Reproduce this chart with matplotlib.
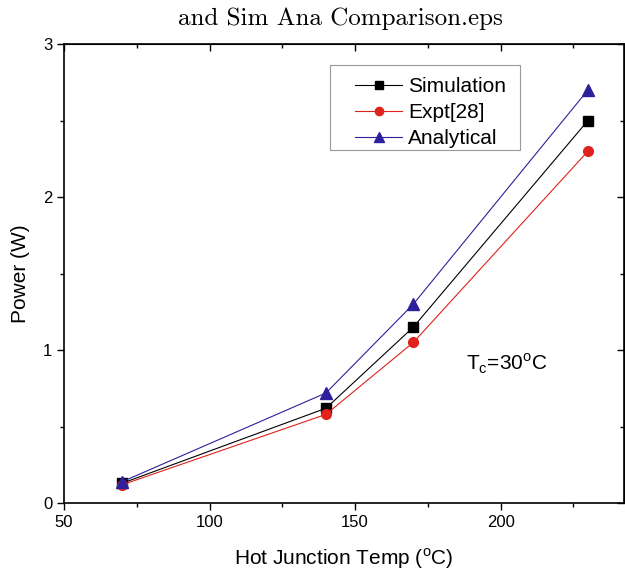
import matplotlib
matplotlib.use("Agg")
import matplotlib.pyplot as plt
from matplotlib.ticker import MultipleLocator
from matplotlib.patches import Rectangle

temps = [70, 140, 170, 230]
simulation = [0.13, 0.62, 1.15, 2.50]
expt = [0.12, 0.58, 1.05, 2.30]
analytical = [0.14, 0.72, 1.30, 2.70]

plt.rcParams['font.family'] = ['Liberation Sans', 'DejaVu Sans']
plt.rcParams['mathtext.fontset'] = 'custom'
plt.rcParams['mathtext.rm'] = 'Liberation Sans'

fig = plt.figure(figsize=(6.25, 5.75), dpi=100)
ax = fig.add_axes([0.1024, 0.125, 0.8966, 0.7985])

ax.plot(temps, simulation, color='black', lw=0.8, marker='s', ms=6.5, label='Simulation')
ax.plot(temps, expt, color='#e0221c', lw=0.8, marker='o', ms=7, label='Expt[28]')
ax.plot(temps, analytical, color='#2e1f9c', lw=0.8, marker='^', ms=8, label='Analytical')

ax.set_xlim(50, 242.5)
ax.set_ylim(0, 3)
ax.xaxis.set_major_locator(MultipleLocator(50))
ax.xaxis.set_minor_locator(MultipleLocator(25))
ax.yaxis.set_major_locator(MultipleLocator(1))
ax.yaxis.set_minor_locator(MultipleLocator(0.5))
ax.tick_params(which='both', direction='out', top=False, right=False, labelsize=12, width=1)
ax.tick_params(which='major', length=5)
ax.tick_params(which='minor', length=3)
for s in ax.spines.values():
    s.set_linewidth(1.2)

sec_x = ax.secondary_xaxis('top')
sec_x.xaxis.set_major_locator(MultipleLocator(50))
sec_x.xaxis.set_minor_locator(MultipleLocator(25))
sec_x.tick_params(which='both', direction='in', labeltop=False, width=1)
sec_x.tick_params(which='major', length=5)
sec_x.tick_params(which='minor', length=3)
sec_y = ax.secondary_yaxis('right')
sec_y.yaxis.set_major_locator(MultipleLocator(1))
sec_y.yaxis.set_minor_locator(MultipleLocator(0.5))
sec_y.tick_params(which='both', direction='in', labelright=False, width=1)
sec_y.tick_params(which='major', length=5)
sec_y.tick_params(which='minor', length=3)

ax.set_xlabel('Hot Junction Temp ($^{\\rm o}$C)', fontsize=15, labelpad=12)
ax.set_ylabel('Power (W)', fontsize=15, labelpad=9)
ax.text(202, 0.91, 'T$_{\\rm c}$=30$^{\\rm o}$C', fontsize=15, ha='center', va='center')

# legend frame
ax.add_patch(Rectangle((0.474, 0.769), 0.339, 0.185, transform=ax.transAxes,
                       facecolor='white', edgecolor='#999999', lw=0.8, zorder=4))
leg = ax.legend(loc='upper left', bbox_to_anchor=(0.5195, 0.928), fontsize=15,
                frameon=False, handlelength=2.25, borderpad=0, labelspacing=0.33,
                handletextpad=0.3, markerscale=0.85, borderaxespad=0)
leg.set_zorder(5)

fig.text(0.544, 0.967, 'and Sim Ana Comparison.eps', fontsize=18, family='cmr10',
         ha='center', va='center')

fig.savefig('out.png', dpi=100)
